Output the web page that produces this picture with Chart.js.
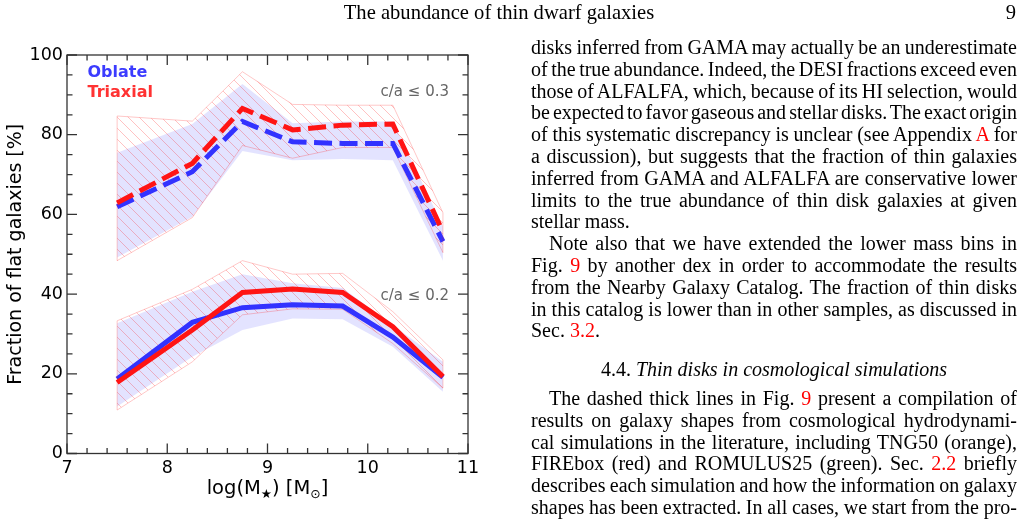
<!DOCTYPE html>
<html>
<head>
<meta charset="utf-8">
<script src="https://cdn.jsdelivr.net/npm/chart.js@4.4.1/dist/chart.umd.min.js"></script>
<style>
body { margin: 0; width: 1027px; height: 519px; overflow: hidden; background: #fff; position: relative;
  font-family: "Liberation Serif", "Times New Roman", serif; color: #000; }
#chart { position: absolute; left: 0; top: 0; }
.hd { position: absolute; top: 0; font-size: 20.6px; line-height: 24px; white-space: nowrap; }
.col { position: absolute; left: 531px; width: 486px; font-size: 20px; line-height: 21.8px; }
.l { white-space: nowrap; text-align: justify; text-align-last: justify; word-spacing: -3px; }
.e { white-space: nowrap; text-align: left; }
.ind { text-indent: 18px; }
.h { text-align: center; white-space: nowrap; }
.r { color: #f00; }
</style>
</head>
<body>
<canvas id="chart" width="1027" height="519"></canvas>

<div class="hd" style="left:0;width:998px;text-align:center;">The abundance of thin dwarf galaxies</div>
<div class="hd" style="left:1000px;width:16px;text-align:right;">9</div>

<div class="col" style="top:37px;">
  <div class="l">disks inferred from GAMA may actually be an underestimate</div>
  <div class="l">of the true abundance. Indeed, the DESI fractions exceed even</div>
  <div class="l">those of ALFALFA, which, because of its HI selection, would</div>
  <div class="l">be expected to favor gaseous and stellar disks. The exact origin</div>
  <div class="l">of this systematic discrepancy is unclear (see Appendix <span class="r">A</span> for</div>
  <div class="l">a discussion), but suggests that the fraction of thin galaxies</div>
  <div class="l">inferred from GAMA and ALFALFA are conservative lower</div>
  <div class="l">limits to the true abundance of thin disk galaxies at given</div>
  <div class="e">stellar mass.</div>
  <div class="l ind">Note also that we have extended the lower mass bins in</div>
  <div class="l">Fig. <span class="r">9</span> by another dex in order to accommodate the results</div>
  <div class="l">from the Nearby Galaxy Catalog. The fraction of thin disks</div>
  <div class="l">in this catalog is lower than in other samples, as discussed in</div>
  <div class="e">Sec. <span class="r">3.2</span>.</div>
</div>

<div class="col h" style="top:359px;">4.4. <i>Thin disks in cosmological simulations</i></div>

<div class="col" style="top:388px;">
  <div class="l ind">The dashed thick lines in Fig. <span class="r">9</span> present a compilation of</div>
  <div class="l">results on galaxy shapes from cosmological hydrodynami-</div>
  <div class="l">cal simulations in the literature, including TNG50 (orange),</div>
  <div class="l">FIREbox (red) and ROMULUS25 (green). Sec. <span class="r">2.2</span> briefly</div>
  <div class="l">describes each simulation and how the information on galaxy</div>
  <div class="l">shapes has been extracted. In all cases, we start from the pro-</div>
</div>

<script>
// stellar mass bins, log(M*)
const massBins = [7.5, 8.25, 8.75, 9.25, 9.75, 10.25, 10.75];
const xTickLabels = [7, 8, 9, 10, 11];
const yTickLabels = [0, 20, 40, 60, 80, 100];

// c/a <= 0.3 (dashed)
const oblate03 = [61.9, 70.7, 83.3, 78.2, 77.8, 77.8, 53.2];
const triaxial03 = [62.9, 72.8, 86.6, 81.2, 82.4, 82.7, 55.6];
const oblate03Hi = [75.5, 82.7, 92.7, 82.9, 83.3, 83.3, 57.0];
const oblate03Lo = [49.2, 59.4, 75.9, 73.6, 73.9, 73.6, 48.4];
const triaxial03Hi = [84.7, 83.4, 95.8, 87.6, 87.4, 87.4, 60.4];
const triaxial03Lo = [48.4, 59.2, 77.3, 74.1, 76.8, 76.8, 50.4];

// c/a <= 0.2 (solid)
const oblate02 = [18.7, 32.9, 36.6, 37.3, 37.0, 29.2, 19.1];
const triaxial02 = [17.8, 31.0, 40.4, 41.3, 40.4, 31.8, 19.3];
const oblate02Hi = [32.7, 40.6, 45.0, 42.7, 41.5, 32.2, 23.0];
const oblate02Lo = [11.8, 24.3, 31.0, 33.9, 33.7, 26.8, 15.5];
const triaxial02Hi = [33.3, 41.2, 48.4, 45.0, 45.2, 35.6, 23.5];
const triaxial02Lo = [10.9, 23.0, 34.8, 36.3, 36.2, 27.6, 16.4];

const blue = 'rgb(50, 50, 255)';
const red = 'rgb(255, 20, 20)';
const blueBand = 'rgba(80, 80, 255, 0.16)';
const redEdge = 'rgba(255, 0, 0, 0.22)';

function pts(arr) {
    return massBins.map((x, i) => ({ x: x, y: arr[i] }));
}

// red diagonal hatching
function hatch() {
    const p = document.createElement('canvas');
    p.width = 11; p.height = 11;
    const g = p.getContext('2d');
    g.strokeStyle = 'rgba(255, 0, 0, 0.24)';
    g.lineWidth = 1;
    g.beginPath();
    g.moveTo(-1, -1); g.lineTo(12, 12);
    g.moveTo(-1, 10); g.lineTo(1, 12);
    g.moveTo(10, -1); g.lineTo(12, 1);
    g.stroke();
    return g.createPattern(p, 'repeat');
}
const hatchFill = hatch();

function band(arr, fill, isRed) {
    return {
        data: pts(arr),
        fill: fill,
        backgroundColor: isRed ? hatchFill : blueBand,
        borderColor: isRed ? redEdge : 'rgba(0,0,0,0)',
        borderWidth: isRed ? 1 : 0,
        pointRadius: 0,
        tension: 0,
        order: isRed ? 15 : 20
    };
}

function line(arr, color, dashed, order) {
    return {
        data: pts(arr),
        fill: false,
        borderColor: color,
        borderWidth: 5,
        borderDash: dashed ? [18, 7.5] : [],
        borderCapStyle: 'butt',
        pointRadius: 0,
        tension: 0,
        order: order
    };
}

// frame, inward ticks, labels
const decorations = {
    id: 'decorations',
    afterDraw(chart) {
        const { ctx, chartArea: a, scales: { x, y } } = chart;
        ctx.save();

        // closing edges of the hatched bands
        ctx.strokeStyle = redEdge;
        ctx.lineWidth = 1;
        ctx.beginPath();
        [[triaxial03Hi, triaxial03Lo], [triaxial02Hi, triaxial02Lo]].forEach(([hi, lo]) => {
            [0, massBins.length - 1].forEach(i => {
                const px = x.getPixelForValue(massBins[i]);
                ctx.moveTo(px, y.getPixelForValue(hi[i]));
                ctx.lineTo(px, y.getPixelForValue(lo[i]));
            });
        });
        ctx.stroke();

        ctx.strokeStyle = '#333';
        ctx.lineWidth = 1.3;
        ctx.strokeRect(a.left, a.top, a.right - a.left, a.bottom - a.top);
        ctx.beginPath();
        for (let v = 7; v <= 11.001; v += 0.2) {
            const px = x.getPixelForValue(v);
            const len = Math.abs(v - Math.round(v)) < 1e-6 ? 10 : 5.5;
            ctx.moveTo(px, a.bottom); ctx.lineTo(px, a.bottom - len);
            ctx.moveTo(px, a.top); ctx.lineTo(px, a.top + len);
        }
        for (let v = 0; v <= 100; v += 5) {
            const py = y.getPixelForValue(v);
            const len = v % 20 === 0 ? 10 : 5.5;
            ctx.moveTo(a.left, py); ctx.lineTo(a.left + len, py);
            ctx.moveTo(a.right, py); ctx.lineTo(a.right - len, py);
        }
        ctx.stroke();

        // legend
        ctx.textBaseline = 'alphabetic';
        ctx.textAlign = 'left';
        ctx.font = 'bold 16px "DejaVu Sans"';
        ctx.fillStyle = 'rgb(60, 60, 255)';
        ctx.fillText('Oblate', a.left + 20.5, 76.5);
        ctx.fillStyle = 'rgb(255, 50, 50)';
        ctx.fillText('Triaxial', a.left + 20.5, 96.5);

        // panel labels
        ctx.font = '15px "DejaVu Sans"';
        ctx.fillStyle = '#666';
        ctx.textAlign = 'right';
        ctx.fillText('c/a \u2264 0.3', a.right - 19, 96);
        ctx.fillText('c/a \u2264 0.2', a.right - 19, 299.5);

        // x axis title with subscripts
        const big = '19.5px "DejaVu Sans"', small = '12.5px "DejaVu Sans"';
        const parts = [['log(M', big, 0], ['\u2605', small, 4], [') [M', big, 0], ['\u2299', small, 4], [']', big, 0]];
        let w = 0;
        parts.forEach(p => { ctx.font = p[1]; w += ctx.measureText(p[0]).width; });
        let cx = (a.left + a.right) / 2 - w / 2;
        ctx.textAlign = 'left';
        ctx.fillStyle = '#000';
        parts.forEach(p => {
            ctx.font = p[1];
            ctx.fillText(p[0], cx, 494 + p[2]);
            cx += ctx.measureText(p[0]).width;
        });
        ctx.restore();
    }
};

const tickFont = { family: 'DejaVu Sans', size: 17.5 };

new Chart(document.getElementById('chart').getContext('2d'), {
    type: 'line',
    data: {
        datasets: [
            band(oblate03Hi, '+1', false),
            band(oblate03Lo, false, false),
            band(triaxial03Hi, '+1', true),
            band(triaxial03Lo, false, true),
            band(oblate02Hi, '+1', false),
            band(oblate02Lo, false, false),
            band(triaxial02Hi, '+1', true),
            band(triaxial02Lo, false, true),
            line(oblate03, blue, true, 4),
            line(triaxial03, red, true, 3),
            line(oblate02, blue, false, 2),
            line(triaxial02, red, false, 1)
        ]
    },
    options: {
        responsive: false,
        animation: false,
        layout: { padding: { left: 0, top: 55, right: 559, bottom: 0 } },
        plugins: { legend: { display: false }, tooltip: { enabled: false } },
        scales: {
            x: {
                type: 'linear',
                min: 7,
                max: 11,
                afterBuildTicks: s => { s.ticks = xTickLabels.map(v => ({ value: v })); },
                afterFit: s => { s.height = 65.5; },
                grid: { display: false, drawTicks: false },
                border: { display: false },
                ticks: { color: '#000', font: tickFont, padding: 4, maxRotation: 0, autoSkip: false, callback: v => String(v) }
            },
            y: {
                type: 'linear',
                min: 0,
                max: 100,
                afterBuildTicks: s => { s.ticks = yTickLabels.map(v => ({ value: v })); },
                afterFit: s => { s.width = 67; },
                grid: { display: false, drawTicks: false },
                border: { display: false },
                ticks: { color: '#000', font: tickFont, padding: 4, autoSkip: false, callback: v => String(v) },
                title: {
                    display: true,
                    text: 'Fraction of flat galaxies [%]',
                    color: '#000',
                    font: { family: 'DejaVu Sans', size: 19 },
                    padding: { top: 5, bottom: 0 }
                }
            }
        }
    },
    plugins: [decorations]
});
</script>
</body>
</html>
